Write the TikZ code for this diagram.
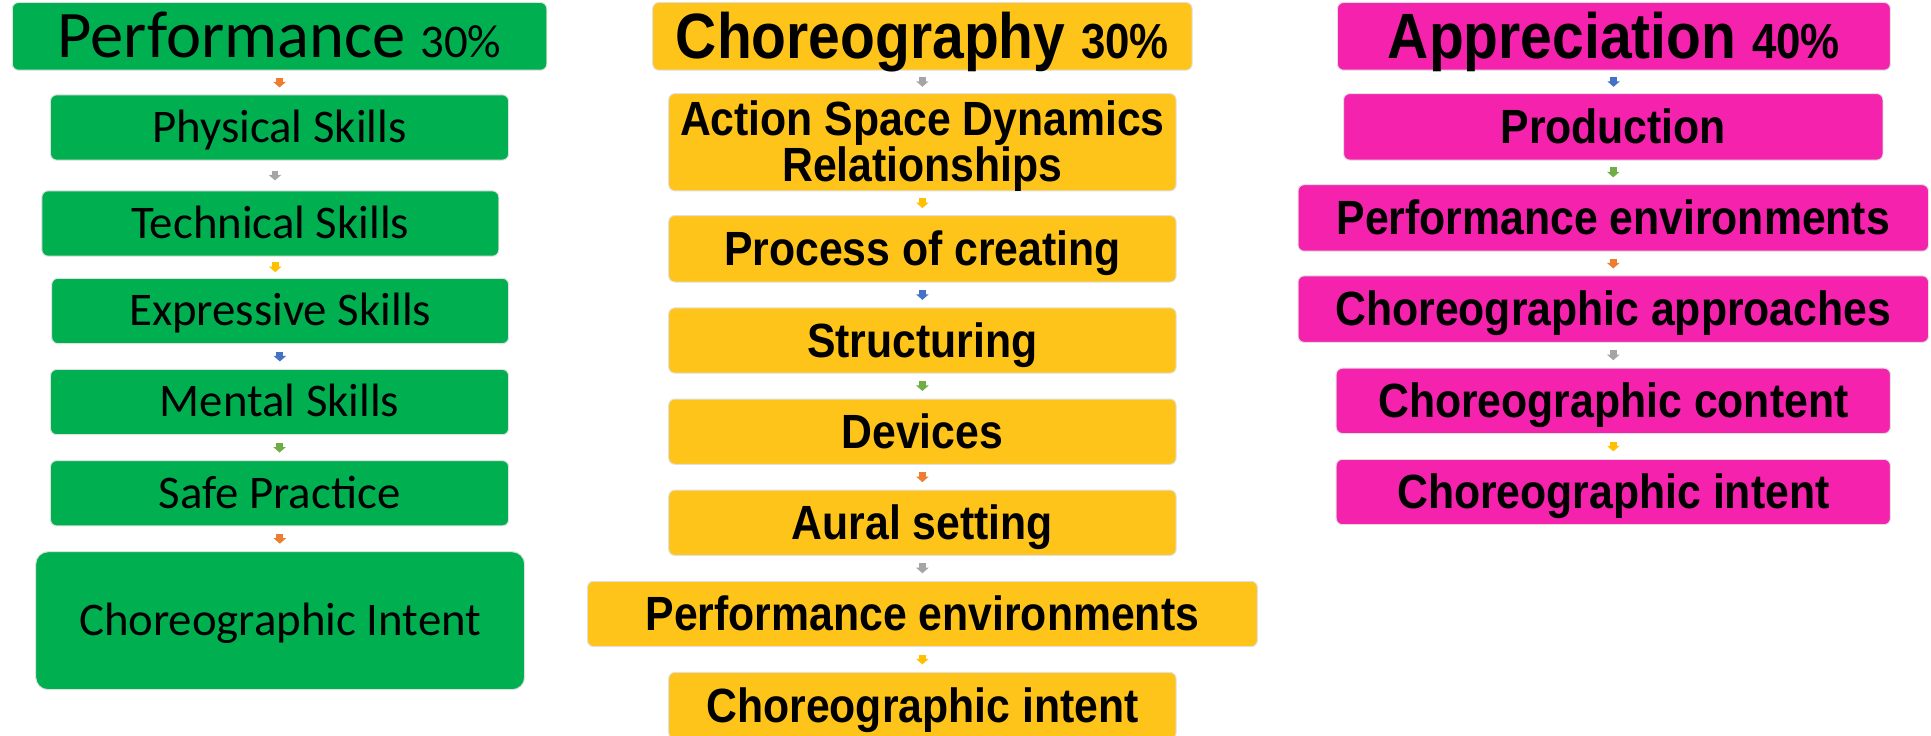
\documentclass[tikz,border=0pt]{standalone}
\usepackage{fontspec}
\setmainfont{Carlito}
\newfontfamily\condfont{Liberation Sans}[FakeStretch=0.89]
\usetikzlibrary{arrows.meta,calc}

\definecolor{perfgreen}{HTML}{00B050}
\definecolor{choryellow}{HTML}{FFC419}
\definecolor{apppink}{HTML}{F422AC}
\definecolor{aorange}{HTML}{ED7D31}
\definecolor{agrey}{HTML}{A5A5A5}
\definecolor{ayellow}{HTML}{FFC000}
\definecolor{ablue}{HTML}{4472C4}
\definecolor{agreen}{HTML}{70AD47}

\tikzset{
  box/.style={rectangle, rounded corners=5pt, draw=black!12, line width=0.8pt,
              inner sep=0pt, align=center, text=black, text depth=0pt},
  gbox/.style={box, fill=perfgreen, font=\fontsize{38}{40}\selectfont, text height=24pt},
  ghead/.style={gbox, font=\fontsize{54}{60}\selectfont, text height=34pt},
  ybox/.style={box, fill=choryellow, font=\condfont\bfseries\fontsize{39}{36}\selectfont, text height=27pt},
  yhead/.style={ybox, font=\condfont\bfseries\fontsize{52}{60}\selectfont, text height=36pt},
  pbox/.style={box, fill=apppink, font=\condfont\bfseries\fontsize{39}{36}\selectfont, text height=27pt},
  phead/.style={pbox, font=\condfont\bfseries\fontsize{52}{60}\selectfont, text height=36pt},
  flow/.style={line width=5.5pt, -{Triangle[width=10pt,length=4.5pt]}},
}

% small block arrow centred in the gap between two stacked boxes
\newcommand\flowarrow[3]{%
  \coordinate (#1-#2) at ($(#1.south)!.5!(#2.north)$);
  \draw[flow,#3] ([yshift=4pt]#1-#2) -- ([yshift=-4pt]#1-#2);
}

\begin{document}
\begin{tikzpicture}[x=1pt,y=-1pt]
\useasboundingbox (0,0) rectangle (1568,597);

% ---------- Performance ----------
\node[ghead, minimum width=434pt, minimum height=55pt] (L0) at (227,29.5)
  {Performance {\fontsize{38}{40}\selectfont 30\%}};
\node[gbox, minimum width=372pt, minimum height=53pt] (L1) at (227,103.5) {Physical Skills};
\node[gbox, minimum width=371pt, minimum height=53pt] (L2) at (219.5,181.5) {Technical Skills};
\node[gbox, minimum width=371pt, minimum height=53pt] (L3) at (227.5,252.5) {Expressive Skills};
\node[gbox, minimum width=372pt, minimum height=53pt] (L4) at (227,326.5) {Mental Skills};
\node[gbox, minimum width=372pt, minimum height=53pt] (L5) at (227,400.5) {Safe Practice};
\node[gbox, rounded corners=10pt, minimum width=397pt, minimum height=112pt] (L6) at (227.5,504) {Choreographic Intent};

\flowarrow{L0}{L1}{aorange}
\flowarrow{L1}{L2}{agrey}
\flowarrow{L2}{L3}{ayellow}
\flowarrow{L3}{L4}{ablue}
\flowarrow{L4}{L5}{agreen}
\flowarrow{L5}{L6}{aorange}

% ---------- Choreography ----------
\node[yhead, minimum width=438pt, minimum height=55pt] (M0) at (749,29.5)
  {Choreography {\fontsize{40}{44}\selectfont 30\%}};
\node[ybox, text height=63pt, minimum width=412pt, minimum height=79pt] (M1) at (749,115.5) {Action Space Dynamics\\Relationships};
\node[ybox, minimum width=412pt, minimum height=54pt] (M2) at (749,202) {Process of creating};
\node[ybox, minimum width=412pt, minimum height=53pt] (M3) at (749,276.5) {Structuring};
\node[ybox, minimum width=412pt, minimum height=53pt] (M4) at (749,350.5) {Devices};
\node[ybox, minimum width=412pt, minimum height=53pt] (M5) at (749,424.5) {Aural setting};
\node[ybox, minimum width=544pt, minimum height=53pt] (M6) at (749,498.5) {Performance environments};
\node[ybox, minimum width=412pt, minimum height=54pt] (M7) at (749,573) {Choreographic intent};

\flowarrow{M0}{M1}{agrey}
\flowarrow{M1}{M2}{ayellow}
\flowarrow{M2}{M3}{ablue}
\flowarrow{M3}{M4}{agreen}
\flowarrow{M4}{M5}{aorange}
\flowarrow{M5}{M6}{agrey}
\flowarrow{M6}{M7}{ayellow}

% ---------- Appreciation ----------
\node[phead, minimum width=449pt, minimum height=55pt] (R0) at (1310.5,29.5)
  {Appreciation {\fontsize{40}{44}\selectfont 40\%}};
\node[pbox, minimum width=438pt, minimum height=54pt] (R1) at (1310,103) {Production};
\node[pbox, minimum width=512pt, minimum height=54pt] (R2) at (1310,177) {Performance environments};
\node[pbox, minimum width=512pt, minimum height=54pt] (R3) at (1310,251) {Choreographic approaches};
\node[pbox, minimum width=450pt, minimum height=53pt] (R4) at (1310,325.5) {Choreographic content};
\node[pbox, minimum width=450pt, minimum height=53pt] (R5) at (1310,399.5) {Choreographic intent};

\flowarrow{R0}{R1}{ablue}
\flowarrow{R1}{R2}{agreen}
\flowarrow{R2}{R3}{aorange}
\flowarrow{R3}{R4}{agrey}
\flowarrow{R4}{R5}{ayellow}
\end{tikzpicture}
\end{document}
